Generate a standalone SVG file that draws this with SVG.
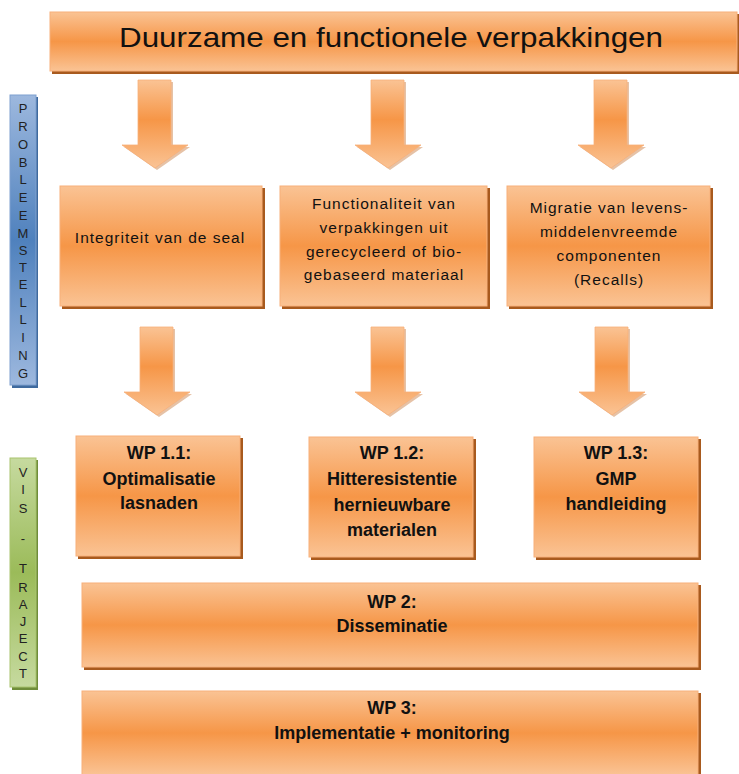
<svg xmlns="http://www.w3.org/2000/svg" width="739" height="774" viewBox="0 0 739 774">
<defs>
<linearGradient id="og" x1="0" y1="0" x2="0" y2="1">
<stop offset="0" stop-color="#FAC394"/>
<stop offset="0.5" stop-color="#F69647"/>
<stop offset="1" stop-color="#FAC394"/>
</linearGradient>
<linearGradient id="ag" x1="0" y1="0" x2="0" y2="1">
<stop offset="0" stop-color="#FAC394"/>
<stop offset="0.45" stop-color="#F69647"/>
<stop offset="1" stop-color="#FAC394"/>
</linearGradient>
<linearGradient id="bg" x1="0" y1="0" x2="0" y2="1">
<stop offset="0" stop-color="#9DB8DE"/>
<stop offset="0.5" stop-color="#4F81BD"/>
<stop offset="1" stop-color="#9DB8DE"/>
</linearGradient>
<linearGradient id="gg" x1="0" y1="0" x2="0" y2="1">
<stop offset="0" stop-color="#C6DA9F"/>
<stop offset="0.5" stop-color="#9BBB59"/>
<stop offset="1" stop-color="#C6DA9F"/>
</linearGradient>
</defs>
<style>
.box{fill:url(#og);stroke:#F8B07A;stroke-width:1}
.sh{fill:#A85A1E}
.arr{fill:url(#ag);stroke:#F8B07A;stroke-width:0.8}
.ash{fill:#C8773A;opacity:0.45}
.t{font-family:"Liberation Sans",Arial,sans-serif;fill:#111;text-anchor:middle;dominant-baseline:central}
.r{font-size:15.5px;letter-spacing:1px}
.b{font-size:18px;font-weight:bold}
.v{font-family:"Liberation Sans",Arial,sans-serif;font-size:13px;fill:#222;text-anchor:middle;dominant-baseline:central}
</style>

<g id="title">
<rect class="sh" x="52" y="14" width="688" height="60"/>
<rect class="box" x="50" y="12" width="687" height="59"/>
<text class="t" x="391" y="37" font-size="28" textLength="544" lengthAdjust="spacingAndGlyphs">Duurzame en functionele verpakkingen</text>
</g>

<g id="probleemstelling">
<rect x="12" y="97" width="26" height="291" fill="#3F6A9E"/>
<rect x="10" y="95" width="26" height="290" fill="url(#bg)" stroke="#7FA0CF" stroke-width="1"/>
<text class="v" x="23" y="108">P</text>
<text class="v" x="23" y="126">R</text>
<text class="v" x="23" y="144">O</text>
<text class="v" x="23" y="162">B</text>
<text class="v" x="23" y="179">L</text>
<text class="v" x="23" y="197">E</text>
<text class="v" x="23" y="215">E</text>
<text class="v" x="23" y="233">M</text>
<text class="v" x="23" y="250">S</text>
<text class="v" x="23" y="267">T</text>
<text class="v" x="23" y="284">E</text>
<text class="v" x="23" y="302">L</text>
<text class="v" x="23" y="319">L</text>
<text class="v" x="23" y="337">I</text>
<text class="v" x="23" y="355">N</text>
<text class="v" x="23" y="373">G</text>
</g>

<g id="vis-traject">
<rect x="12" y="460" width="26" height="230" fill="#6F8D3A"/>
<rect x="10" y="458" width="26" height="229" fill="url(#gg)" stroke="#A9C46F" stroke-width="1"/>
<text class="v" x="23" y="472">V</text>
<text class="v" x="23" y="489">I</text>
<text class="v" x="23" y="508">S</text>
<text class="v" x="23" y="538">-</text>
<text class="v" x="23" y="568">T</text>
<text class="v" x="23" y="587">R</text>
<text class="v" x="23" y="604">A</text>
<text class="v" x="23" y="621">J</text>
<text class="v" x="23" y="638">E</text>
<text class="v" x="23" y="656">C</text>
<text class="v" x="23" y="673">T</text>
</g>

<g id="connectors">
<g transform="translate(155,0)">
<path class="ash" d="M-15,82 H18 V147 H35 L2,170 L-31,147 H-15 Z"/>
<path class="arr" d="M-17,80 H16 V145 H33 L0,168 L-33,145 H-17 Z"/>
</g>
<g transform="translate(388,0)">
<path class="ash" d="M-15,82 H18 V147 H35 L2,170 L-31,147 H-15 Z"/>
<path class="arr" d="M-17,80 H16 V145 H33 L0,168 L-33,145 H-17 Z"/>
</g>
<g transform="translate(611,0)">
<path class="ash" d="M-15,82 H18 V147 H35 L2,170 L-31,147 H-15 Z"/>
<path class="arr" d="M-17,80 H16 V145 H33 L0,168 L-33,145 H-17 Z"/>
</g>
<g transform="translate(157,247)">
<path class="ash" d="M-15,82 H18 V147 H35 L2,170 L-31,147 H-15 Z"/>
<path class="arr" d="M-17,80 H16 V145 H33 L0,168 L-33,145 H-17 Z"/>
</g>
<g transform="translate(388,247)">
<path class="ash" d="M-15,82 H18 V147 H35 L2,170 L-31,147 H-15 Z"/>
<path class="arr" d="M-17,80 H16 V145 H33 L0,168 L-33,145 H-17 Z"/>
</g>
<g transform="translate(612,247)">
<path class="ash" d="M-15,82 H18 V147 H35 L2,170 L-31,147 H-15 Z"/>
<path class="arr" d="M-17,80 H16 V145 H33 L0,168 L-33,145 H-17 Z"/>
</g>
</g>

<g id="integriteit">
<rect class="sh" x="62" y="188" width="203" height="121"/>
<rect class="box" x="60" y="186" width="202" height="120"/>
<text class="t r" x="160" y="237">Integriteit van de seal</text>
</g>

<g id="functionaliteit">
<rect class="sh" x="282" y="188" width="208" height="121"/>
<rect class="box" x="280" y="186" width="207" height="120"/>
<text class="t r" x="384" y="203">Functionaliteit van</text>
<text class="t r" x="384" y="227">verpakkingen uit</text>
<text class="t r" x="384" y="251">gerecycleerd of bio-</text>
<text class="t r" x="384" y="274">gebaseerd materiaal</text>
</g>

<g id="migratie">
<rect class="sh" x="509" y="188" width="204" height="121"/>
<rect class="box" x="507" y="186" width="203" height="120"/>
<text class="t r" x="609" y="207">Migratie van levens-</text>
<text class="t r" x="609" y="231">middelenvreemde</text>
<text class="t r" x="609" y="255">componenten</text>
<text class="t r" x="609" y="279">(Recalls)</text>
</g>

<g id="wp11">
<rect class="sh" x="78" y="438" width="165" height="121"/>
<rect class="box" x="76" y="436" width="164" height="120"/>
<text class="t b" x="159" y="453">WP 1.1:</text>
<text class="t b" x="159" y="479">Optimalisatie</text>
<text class="t b" x="159" y="503">lasnaden</text>
</g>

<g id="wp12">
<rect class="sh" x="311" y="439" width="165" height="121"/>
<rect class="box" x="309" y="437" width="164" height="120"/>
<text class="t b" x="392" y="453">WP 1.2:</text>
<text class="t b" x="392" y="479">Hitteresistentie</text>
<text class="t b" x="392" y="505">hernieuwbare</text>
<text class="t b" x="392" y="530">materialen</text>
</g>

<g id="wp13">
<rect class="sh" x="536" y="439" width="165" height="121"/>
<rect class="box" x="534" y="437" width="164" height="120"/>
<text class="t b" x="616" y="453">WP 1.3:</text>
<text class="t b" x="616" y="479">GMP</text>
<text class="t b" x="616" y="504">handleiding</text>
</g>

<g id="wp2">
<rect class="sh" x="84" y="585" width="617" height="85"/>
<rect class="box" x="82" y="583" width="616" height="84"/>
<text class="t b" x="392" y="602">WP 2:</text>
<text class="t b" x="392" y="626">Disseminatie</text>
</g>

<g id="wp3">
<rect class="sh" x="84" y="693" width="617" height="85"/>
<rect class="box" x="82" y="691" width="616" height="84"/>
<text class="t b" x="392" y="708">WP 3:</text>
<text class="t b" x="392" y="733">Implementatie + monitoring</text>
</g>
</svg>
